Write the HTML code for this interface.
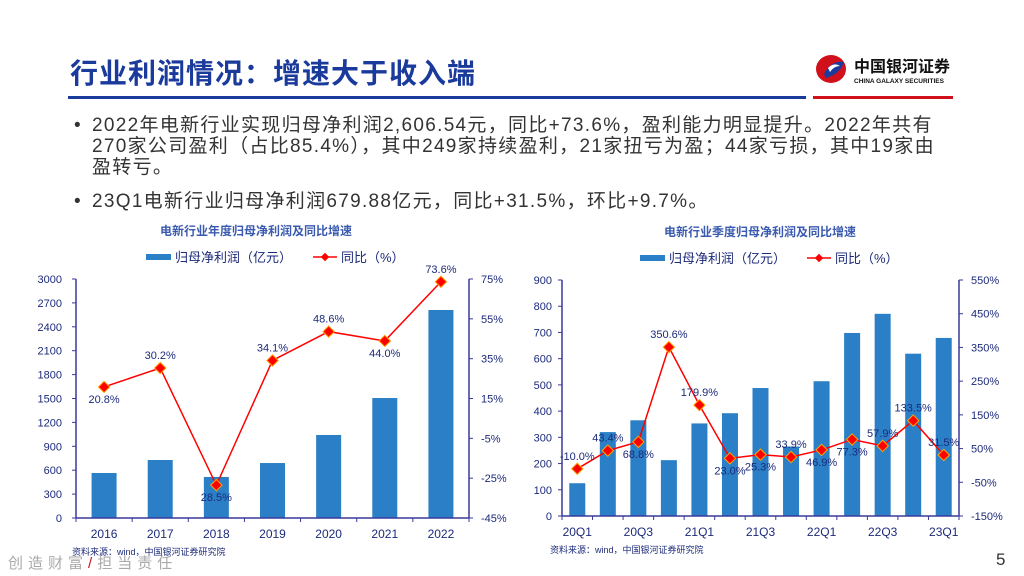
<!DOCTYPE html>
<html><head><meta charset="utf-8"><style>
body{margin:0;width:1024px;height:576px;overflow:hidden;background:#fff;font-family:"Liberation Sans","Noto Sans CJK SC",sans-serif;position:relative}
.abs{position:absolute}
.title{left:70px;top:52px;font-size:28px;font-weight:bold;color:#1a3a9c;letter-spacing:1px}
.bul{left:74px;font-size:19px;color:#333;line-height:21px;letter-spacing:1.3px;white-space:nowrap}
.bul span{position:absolute;left:0}
.bul div{margin-left:18px;width:920px}
svg text{font-family:"Liberation Sans","Noto Sans CJK SC",sans-serif}
</style></head><body>
<div class="abs title">行业利润情况：增速大于收入端</div>
<div class="abs" style="left:68px;top:96px;width:738px;height:3px;background:#1a3a9c"></div>
<div class="abs" style="left:813px;top:96px;width:140px;height:3px;background:#d0111b"></div>
<div class="abs" style="left:814px;top:52px">
<svg width="145" height="34"><ellipse cx="17" cy="17" rx="15" ry="14" fill="#d0111b"/><path d="M10 22 Q17 8 30 10 Q26 22 12 26Z" fill="#1a3a9c"/><path d="M14 16 Q20 10 26 14 Q20 14 16 20Z" fill="#fff"/>
<text x="40" y="20" font-size="16" font-weight="bold" fill="#111">中国银河证券</text><text x="40" y="31" font-size="6.5" font-weight="bold" fill="#111">CHINA GALAXY SECURITIES</text></svg></div>
<div class="abs bul" style="top:115px"><span>•</span><div>2022年电新行业实现归母净利润2,606.54元，同比+73.6%，盈利能力明显提升。2022年共有<br>270家公司盈利（占比85.4%），其中249家持续盈利，21家扭亏为盈；44家亏损，其中19家由<br>盈转亏。</div></div>
<div class="abs bul" style="top:191px"><span>•</span><div>23Q1电新行业归母净利润679.88亿元，同比+31.5%，环比+9.7%。</div></div>
<svg class="abs" style="left:0;top:0" width="1024" height="576" id="charts"></svg>
<div class="abs" style="left:8px;top:552px;font-size:15px;color:#aaa;letter-spacing:5px">创造财富<span style="color:#d0111b">/</span>担当责任</div>
<div class="abs" style="left:996px;top:550px;font-size:17px;color:#333">5</div>
<script>
const yearCats=["2016","2017","2018","2019","2020","2021","2022"];
const yearProfit=[565,728,515,690,1042,1506,2611];
const yearYoy=[20.8,30.3,-28.5,34.1,48.6,43.9,73.6];
const yearLabels=["20.8%","30.2%","28.5%","34.1%","48.6%","44.0%","73.6%"];
const yearLabelSide=[1,-1,1,-1,-1,1,-1];
const yearLeftTicks=[0,300,600,900,1200,1500,1800,2100,2400,2700,3000];
const yearRightTicks=[-45,-25,-5,15,35,55,75];
const qCats=["20Q1","20Q2","20Q3","20Q4","21Q1","21Q2","21Q3","21Q4","22Q1","22Q2","22Q3","22Q4","23Q1"];
const qProfit=[125,320,365,213,353,392,488,265,514,698,771,619,679];
const qYoy=[-10,44,70,351,179,21,32,25,46,77,58,133,31];
const qLabels=["-10.0%","43.4%","68.8%","350.6%","179.9%","23.0%","25.3%","33.9%","46.9%","77.3%","57.9%","133.5%","31.5%"];
const qLabelSide=[-1,-1,1,-1,-1,1,1,-1,1,1,-1,-1,-1];
const qLeftTicks=[0,100,200,300,400,500,600,700,800,900];
const qRightTicks=[-150,-50,50,150,250,350,450,550];
const qXLabels=["20Q1","20Q3","21Q1","21Q3","22Q1","22Q3","23Q1"];
const NS="http://www.w3.org/2000/svg";
const svg=document.getElementById('charts');
function mk(t,a,txt){const e=document.createElementNS(NS,t);for(const k in a)e.setAttribute(k,a[k]);if(txt!==undefined)e.textContent=txt;svg.appendChild(e);return e;}
function chart(o){
 const band=(o.x1-o.x0)/o.cats.length;
 const X=i=>o.x0+band*(i+0.5);
 const YL=v=>o.yb-(v-o.lmin)/(o.lmax-o.lmin)*(o.yb-o.yt);
 const YR=v=>o.yb-(v-o.rmin)/(o.rmax-o.rmin)*(o.yb-o.yt);
 let e=mk('text',{x:o.tx,y:o.yt-44,'font-size':12,'font-weight':'bold',fill:'#3a5bb0','text-anchor':'middle'},o.title);
 
 
 e=mk('rect',{x:o.tx-o.lg,y:o.yt-25,width:25,height:6,fill:'#2a7fc6'});
 
 
 mk('text',{x:o.tx-o.lg+29,y:o.yt-17,'font-size':13,fill:'#1c2a7a'},'归母净利润（亿元）');
 const lx=o.tx-o.lg+167;
 e=mk('line',{x1:lx,x2:lx+24,y1:o.yt-22,y2:o.yt-22,stroke:'#f00','stroke-width':1.5});
 
 
 mk('rect',{x:lx+9,y:o.yt-25,width:6,height:6,fill:'#f00',transform:`rotate(45 ${lx+12} ${o.yt-22})`});
 mk('text',{x:lx+28,y:o.yt-17,'font-size':13,fill:'#1c2a7a'},'同比（%）');
 o.lt.forEach(v=>{e=mk('text',{x:o.x0-(o.id=='year'?14:10),y:YL(v)+4,'font-size':11,fill:'#1c2a7a','text-anchor':'end'},v);
  
  
  mk('line',{x1:o.x0-4,x2:o.x0,y1:YL(v),y2:YL(v),stroke:'#3a3a9a'});});
 o.rt.forEach(v=>{e=mk('text',{x:o.x1+12,y:YR(v)+4,'font-size':11,fill:'#1c2a7a'},v+'%');
  
  
  mk('line',{x1:o.x1,x2:o.x1+4,y1:YR(v),y2:YR(v),stroke:'#3a3a9a'});});
 o.bars.forEach((v,i)=>{e=mk('rect',{x:X(i)-o.bw/2,y:YL(v),width:o.bw,height:o.yb-YL(v),fill:'#2a7fc6'});
  
  });
 mk('line',{x1:o.x0,x2:o.x0,y1:o.yt,y2:o.yb,stroke:'#3a3a9a','stroke-width':1.5});
 mk('line',{x1:o.x1,x2:o.x1,y1:o.yt,y2:o.yb,stroke:'#3a3a9a','stroke-width':1.5});
 mk('line',{x1:o.x0,x2:o.x1,y1:o.yb,y2:o.yb,stroke:'#3a3a9a','stroke-width':1.5});
 for(let i=0;i<=o.cats.length;i++)mk('line',{x1:o.x0+band*i,x2:o.x0+band*i,y1:o.yb,y2:o.yb+4,stroke:'#3a3a9a'});
 e=mk('polyline',{points:o.line.map((v,i)=>X(i)+','+YR(v)).join(' '),fill:'none',stroke:'#f00','stroke-width':1.5});
 
 
 o.line.forEach((v,i)=>{e=mk('rect',{x:X(i)-4,y:YR(v)-4,width:8,height:8,fill:'#f00',stroke:'#ffa500','stroke-width':1,transform:`rotate(45 ${X(i)} ${YR(v)})`});
  
  
  const s=o.side[i];
  e=mk('text',{x:X(i),y:YR(v)+(s>0?16:-9),'font-size':11,fill:'#1c2a7a','text-anchor':'middle'},o.labels[i]);
  
  });
 o.cats.forEach((c,i)=>{if(o.xl.includes(c)){e=mk('text',{x:X(i),y:o.yb+20,'font-size':12,fill:'#1c2a7a','text-anchor':'middle'},c);
  
  }});
 e=mk('text',{x:o.srcx,y:o.yb+37,'font-size':9,fill:'#1c2a7a'},'资料来源：wind，中国银河证券研究院');
 
 
}
chart({id:'year',title:'电新行业年度归母净利润及同比增速',tx:256,lg:110,x0:76,x1:469,yt:279,yb:518,lmin:0,lmax:3000,rmin:-45,rmax:75,
 cats:yearCats,bars:yearProfit,line:yearYoy,labels:yearLabels,side:yearLabelSide,lt:yearLeftTicks,rt:yearRightTicks,xl:yearCats,bw:25,srcx:72});
chart({id:'quarter',title:'电新行业季度归母净利润及同比增速',tx:760,lg:120,x0:562,x1:959,yt:280,yb:516,lmin:0,lmax:900,rmin:-150,rmax:550,
 cats:qCats,bars:qProfit,line:qYoy,labels:qLabels,side:qLabelSide,lt:qLeftTicks,rt:qRightTicks,xl:qXLabels,bw:16,srcx:550});
</script>
</body></html>
